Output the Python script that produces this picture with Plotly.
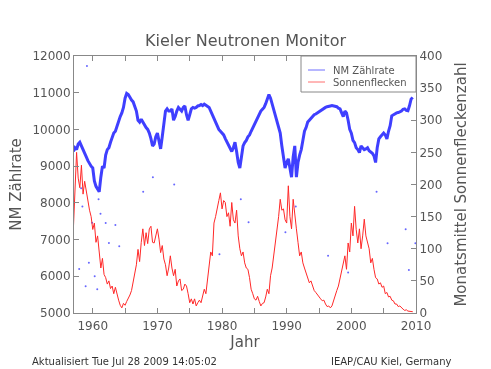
import numpy as np
import plotly.graph_objects as go

# quarterly time grid 1957.0 ... 2009.5
start_year = 1957.0
step = 0.25

nm_rate = [
    9400, 9500, 9450, 9600,
    9650, 9550, 9400, 9300,
    9250, 9150, 9050, 9000,
    8950, 8600, 8450, 8350,
    8300, 8700, 9000, 8950,
    9300, 9450, 9500, 9650,
    9800, 9900, 9950, 10100,
    10200, 10350, 10450, 10600,
    10850, 10980, 10950, 10850,
    10800, 10750, 10650, 10500,
    10250, 10200, 10280, 10200,
    10100, 10050, 10000, 9900,
    9750, 9550, 9600, 9800,
    9900, 9700, 9470, 9800,
    10200, 10500, 10560, 10500,
    10500, 10560, 10250, 10350,
    10500, 10600, 10550, 10500,
    10600, 10640, 10400, 10250,
    10400, 10560, 10600, 10580,
    10600, 10640, 10650, 10680,
    10650, 10690, 10660, 10640,
    10600, 10500, 10400, 10300,
    10200, 10100, 10000, 9950,
    9900, 9850, 9750, 9650,
    9600, 9500, 9400, 9500,
    9650, 9400, 9100, 8950,
    9300, 9550, 9640, 9700,
    9800, 9850, 9950, 10050,
    10150, 10250, 10300, 10400,
    10500, 10550, 10600, 10700,
    10800, 10950, 10850, 10700,
    10500, 10400, 10200, 10050,
    9900, 9550, 9200, 8950,
    9100, 9200, 8950, 8700,
    9250, 9550, 8700, 9100,
    9300, 9450, 9700, 9950,
    10050, 10200, 10250, 10300,
    10350, 10400, 10420, 10450,
    10500, 10520, 10560, 10580,
    10600, 10620, 10640, 10640,
    10650, 10640, 10640, 10620,
    10580, 10560, 10450, 10350,
    10500, 10450, 10250, 10000,
    9900, 9700, 9640, 9500,
    9450, 9370, 9550, 9500,
    9450, 9470, 9500, 9420,
    9380, 9350, 9280, 9100,
    9500, 9740, 9800, 9850,
    9900, 9850, 9740, 9950,
    10100, 10370, 10400, 10420,
    10450, 10460, 10480, 10500,
    10550, 10560, 10520, 10510,
    10650, 10830, 10870,
]

sunspots = [
    130, 200, 250, 210,
    195, 230, 185, 205,
    190, 170, 160, 150,
    130, 140, 110, 120,
    95, 70, 85, 60,
    55, 45, 50, 38,
    42, 30, 40, 28,
    20, 12, 8, 15,
    12, 18, 22, 28,
    35, 50, 58, 75,
    99, 80, 110, 131,
    105, 125, 108, 131,
    135, 110, 109, 120,
    131, 115, 94, 105,
    84, 75, 58, 70,
    89, 70, 58, 68,
    42, 50, 53, 35,
    37, 45, 42, 30,
    16, 22, 14, 22,
    11, 16, 20, 16,
    25, 37, 30, 55,
    78, 95, 89, 140,
    150, 166, 175, 187,
    162, 175, 172, 150,
    156, 135, 172, 145,
    140, 160, 120, 100,
    89, 95, 78, 70,
    68, 55, 37, 30,
    22, 20, 26, 18,
    11, 15, 16, 25,
    37, 30, 58, 70,
    89, 110, 131, 150,
    177, 160, 162, 145,
    140, 198, 150, 131,
    177, 150, 131, 110,
    89, 95, 78, 70,
    63, 55, 47, 50,
    42, 35, 32, 28,
    26, 22, 19, 20,
    14, 10, 11, 8,
    11, 20, 26, 35,
    42, 55, 68, 75,
    89, 68, 109, 95,
    140, 120, 166, 130,
    109, 131, 100, 120,
    146, 120, 109, 100,
    78, 85, 68, 55,
    53, 45, 47, 40,
    42, 30, 32, 25,
    26, 20, 19, 14,
    14, 10, 11, 8,
    6, 4, 5, 3,
    3, 2, 2,
]

# scattered single-day outliers of the count rate
outlier_years = [1959.1, 1958.4, 1959.9, 1959.4, 1958.9, 1960.7, 1962.5, 1964.1,
                 1957.9, 1962.0, 1961.2, 1960.3, 1969.3, 1972.6, 1979.6, 1984.1,
                 1989.8, 1991.4, 1996.4, 1999.5, 2005.6, 2008.4, 2009.9, 2008.9,
                 1958.2, 1960.9, 1963.5, 1967.8, 1982.9, 2003.9]
outlier_rate = [11730, 7900, 7460, 6370, 5730, 5650, 6910, 6820,
                6200, 7450, 7700, 6000, 8700, 8500, 6600, 7470,
                7200, 7900, 6560, 6100, 6900, 7280, 6900, 6170,
                8400, 8100, 7400, 8300, 8100, 8300]

legend_labels = ["NM Zählrate", "Sonnenflecken"]

years = start_year + step * np.arange(len(nm_rate))
years_ss = start_year + step * np.arange(len(sunspots))

BLUE = "rgb(0,0,255)"
RED = "rgb(255,40,40)"
GRAY = "#555555"
FONT = "DejaVu Sans"

# plot area in pixels (for placing paper-referenced decorations)
L, R, T, B = 74, 416, 56, 313
def px(x):
    return (x - L) / (R - L)
def py(y):
    return (B - y) / (B - T)

fig = go.Figure()

fig.add_trace(go.Scatter(x=years, y=nm_rate, mode="lines",
                         line=dict(color=BLUE, width=3), opacity=0.75,
                         showlegend=False, yaxis="y"))
fig.add_trace(go.Scatter(x=outlier_years, y=outlier_rate, mode="markers",
                         marker=dict(color=BLUE, size=2), opacity=0.6,
                         showlegend=False, yaxis="y"))
fig.add_trace(go.Scatter(x=years_ss, y=sunspots, mode="lines",
                         line=dict(color=RED, width=1),
                         showlegend=False, yaxis="y2"))

axis_common = dict(showgrid=False, zeroline=False, showline=True,
                   linecolor="#888888", linewidth=1, ticks="inside",
                   tickcolor="#888888", ticklen=5, tickformat="d",
                   tickfont=dict(family=FONT, size=12, color=GRAY))

shapes = [
    dict(type="rect", xref="paper", yref="paper", x0=px(301), x1=px(416),
         y0=py(92), y1=py(56), line=dict(color="#888888", width=1),
         fillcolor="white", layer="above"),
    dict(type="line", xref="paper", yref="paper", x0=px(308), x1=px(325),
         y0=py(70), y1=py(70), line=dict(color="rgb(110,110,255)", width=1), layer="above"),
    dict(type="line", xref="paper", yref="paper", x0=px(308), x1=px(325),
         y0=py(82), y1=py(82), line=dict(color="rgb(255,110,110)", width=1), layer="above"),
]

annotations = [
    dict(text=legend_labels[0], x=px(331), y=py(70), xref="paper", yref="paper",
         xanchor="left", yanchor="middle", showarrow=False,
         font=dict(family=FONT, size=10, color=GRAY)),
    dict(text=legend_labels[1], x=px(331), y=py(82), xref="paper", yref="paper",
         xanchor="left", yanchor="middle", showarrow=False,
         font=dict(family=FONT, size=10, color=GRAY)),
    dict(text="Aktualisiert Tue Jul 28 2009 14:05:02", x=px(30), y=py(361),
         xref="paper", yref="paper", xanchor="left", yanchor="middle",
         showarrow=False, font=dict(family=FONT, size=10, color="#333333")),
    dict(text="IEAP/CAU Kiel, Germany", x=px(453), y=py(361),
         xref="paper", yref="paper", xanchor="right", yanchor="middle",
         showarrow=False, font=dict(family=FONT, size=10, color="#333333")),
]

fig.update_layout(
    width=491, height=369,
    margin=dict(l=L, r=491 - R, t=T, b=369 - B),
    paper_bgcolor="white", plot_bgcolor="white",
    showlegend=False,
    title=dict(text="Kieler Neutronen Monitor", x=0.5, xanchor="center",
               y=1 - 40 / 369, yanchor="middle",
               font=dict(family=FONT, size=16, color=GRAY)),
    xaxis=dict(range=[1957.1, 2010], dtick=10, tick0=1960, mirror="ticks",
               minor=dict(dtick=5, ticks="inside", ticklen=5, tickcolor="#888888"),
               ticklabelstandoff=2,
               title=dict(text="Jahr", standoff=2,
                          font=dict(family=FONT, size=15, color=GRAY)),
               **axis_common),
    yaxis=dict(range=[5000, 12000], dtick=1000,
               title=dict(text="NM Zählrate", standoff=7,
                          font=dict(family=FONT, size=15, color=GRAY)),
               **axis_common),
    yaxis2=dict(range=[0, 400], dtick=50, overlaying="y", side="right",
                title=dict(text="Monatsmittel Sonnenfleckenzahl", standoff=14,
                           font=dict(family=FONT, size=15, color=GRAY)),
                **axis_common),
    shapes=shapes,
    annotations=annotations,
)

fig.write_html("out.html")
